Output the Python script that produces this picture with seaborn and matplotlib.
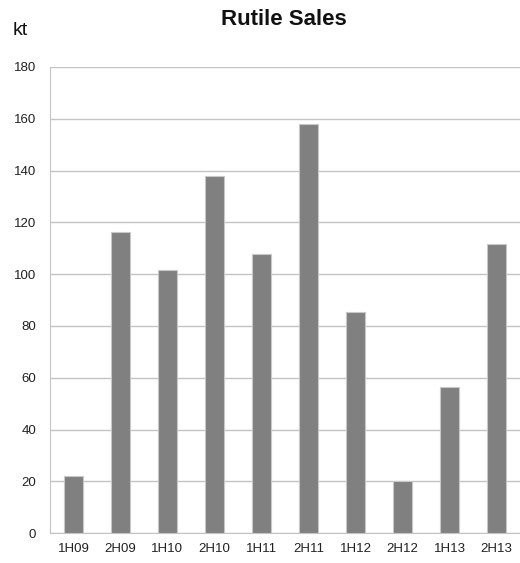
import numpy as np
import matplotlib.pyplot as plt
import seaborn as sns
import pandas as pd

# data
periods = ['1H09', '2H09', '1H10', '2H10', '1H11', '2H11', '1H12', '2H12', '1H13', '2H13']
sales_kt = [22.2, 116.3, 101.6, 138.0, 107.6, 158.0, 85.4, 20.0, 56.4, 111.6]

df = pd.DataFrame({'period': periods, 'sales': sales_kt})

sns.set_style('white')
plt.rcParams['font.family'] = ['Liberation Sans', 'DejaVu Sans']

fig = plt.figure(figsize=(5.2, 5.63), dpi=100)
ax = fig.add_axes([0.096, 0.053, 0.904, 0.828])

sns.barplot(data=df, x='period', y='sales', color='#808080', width=0.4,
            edgecolor='#c8c8c8', linewidth=0.8, saturation=1, ax=ax, zorder=3)

ax.set_ylim(0, 180)
ax.set_xlim(-0.5, 9.5)
ax.set_yticks(np.arange(0, 181, 20))
ax.yaxis.grid(True, color='#c4c4c4', linewidth=1.0, zorder=0)
ax.set_axisbelow(True)

for s in ['top', 'right']:
    ax.spines[s].set_visible(False)
ax.spines['left'].set_color('#c4c4c4')
ax.spines['bottom'].set_color('#c4c4c4')

# x ticks between categories
ax.set_xticks(np.arange(-0.5, 10, 1), minor=True)
ax.tick_params(axis='x', which='major', length=0, labelsize=9.5, labelcolor='#222222', pad=7)
ax.tick_params(axis='x', which='minor', length=4, color='#c4c4c4', direction='out')
ax.tick_params(axis='y', length=4, color='#c4c4c4', labelsize=9.5, labelcolor='#222222',
               direction='out', pad=6)

ax.set_xlabel('')
ax.set_ylabel('')

fig.text(0.545, 0.966, 'Rutile Sales', ha='center', va='center', fontsize=16, fontweight='bold', color='#111111')
fig.text(0.024, 0.946, 'kt', ha='left', va='center', fontsize=14, color='#111111')

fig.savefig('out.png', dpi=100)
